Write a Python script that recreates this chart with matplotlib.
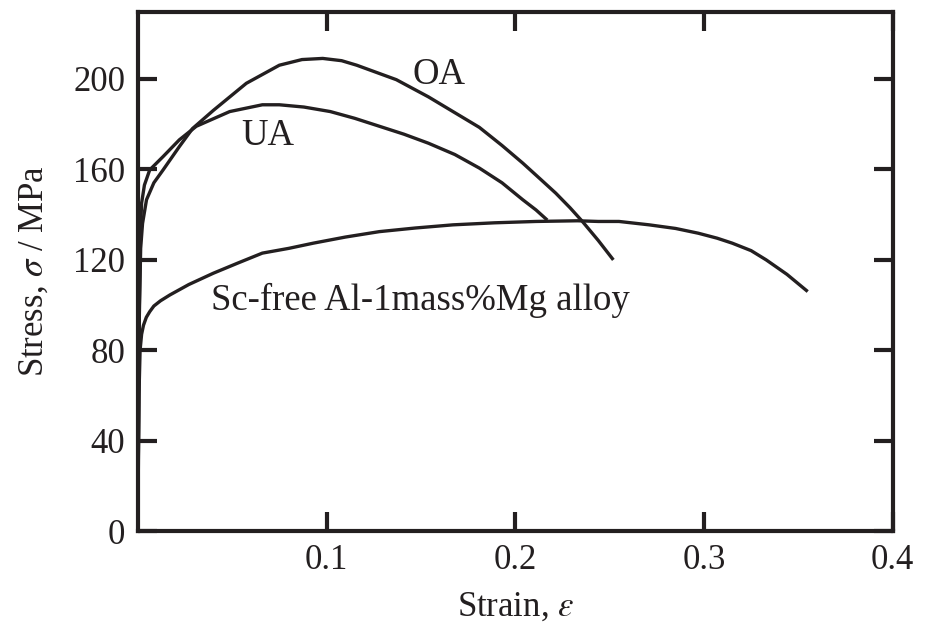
import matplotlib
matplotlib.use("Agg")
import matplotlib.pyplot as plt

plt.rcParams['font.family'] = ['Liberation Serif', 'DejaVu Serif']
plt.rcParams['mathtext.fontset'] = 'stix'

ink = '#231f20'

# stress-strain curves (strain, MPa)
oa_strain = [0.0, 0.0008, 0.0015, 0.0025, 0.0046, 0.0085, 0.0134, 0.022, 0.029, 0.040,
             0.0575, 0.075, 0.087, 0.098, 0.108, 0.116, 0.137, 0.154, 0.168, 0.181,
             0.193, 0.204, 0.2135, 0.2215, 0.229, 0.2356, 0.244, 0.252]
oa_stress = [0.0, 95.0, 125.0, 136.0, 146.5, 154.0, 159.7, 170.0, 178.0, 186.0,
             198.0, 206.0, 208.5, 209.0, 208.0, 206.0, 199.6, 192.0, 185.0, 178.5,
             170.5, 162.7, 155.5, 149.4, 143.0, 136.9, 128.5, 119.9]

ua_strain = [0.0, 0.0008, 0.0015, 0.002, 0.0035, 0.0063, 0.0134, 0.022, 0.031, 0.0487,
             0.066, 0.075, 0.088, 0.102, 0.115, 0.128, 0.141, 0.154, 0.168, 0.181,
             0.193, 0.204, 0.211, 0.217]
ua_stress = [0.0, 100.0, 135.0, 145.0, 153.0, 159.7, 165.6, 173.0, 179.0, 185.5,
             188.5, 188.5, 187.5, 185.5, 182.5, 179.0, 175.5, 171.5, 166.5, 160.5,
             154.0, 146.5, 142.0, 137.5]

free_strain = [0.0, 0.0006, 0.0012, 0.002, 0.003, 0.0045, 0.0063, 0.0085, 0.012, 0.017,
               0.027, 0.040, 0.053, 0.066, 0.080, 0.093, 0.110, 0.128, 0.147, 0.167,
               0.189, 0.211, 0.233, 0.244, 0.255, 0.271, 0.285, 0.297, 0.307, 0.315,
               0.325, 0.333, 0.344, 0.355]
free_stress = [0.0, 60.0, 80.0, 87.0, 91.0, 94.5, 97.0, 99.5, 101.8, 104.4,
               109.0, 114.0, 118.5, 122.9, 125.0, 127.3, 130.0, 132.4, 134.0, 135.4,
               136.3, 136.9, 137.2, 136.9, 136.9, 135.4, 133.8, 131.7, 129.5, 127.3,
               124.0, 119.9, 113.5, 105.9]

x_ticks = [0.1, 0.2, 0.3, 0.4]
x_tick_labels = ['0.1', '0.2', '0.3', '0.4']
y_ticks = [0, 40, 80, 120, 160, 200]

fig = plt.figure(figsize=(9.25, 6.37), dpi=100)
ax = fig.add_axes([0.149, 0.1664, 0.816, 0.815])

for xs, ys in [(oa_strain, oa_stress), (ua_strain, ua_stress), (free_strain, free_stress)]:
    ax.plot(xs, ys, color=ink, lw=2.4, solid_joinstyle='round', solid_capstyle='butt')

ax.set_xlim(0, 0.4)
ax.set_ylim(0, 229.6)
ax.set_xticks(x_ticks)
ax.set_xticklabels(x_tick_labels)
ax.set_yticks(y_ticks)

for s in ax.spines.values():
    s.set_linewidth(3.0)
    s.set_color(ink)

ax.tick_params(direction='in', length=13.5, width=3.0, color=ink, labelcolor=ink,
               labelsize=25, top=True, right=True, pad=9)

ax.text(0.1455, 202, 'OA', fontsize=26.5, color=ink, ha='left', va='center')
ax.text(0.055, 175, 'UA', fontsize=26.5, color=ink, ha='left', va='center')
ax.text(0.039, 102, 'Sc-free Al-1mass%Mg alloy', fontsize=26.5, color=ink, ha='left', va='center')

ax.set_xlabel(r'Strain, $\varepsilon$', fontsize=25, color=ink, labelpad=10)
ax.set_ylabel(r'Stress, $\sigma$ / MPa', fontsize=25, color=ink, labelpad=16)

fig.savefig('out.png', dpi=100)
